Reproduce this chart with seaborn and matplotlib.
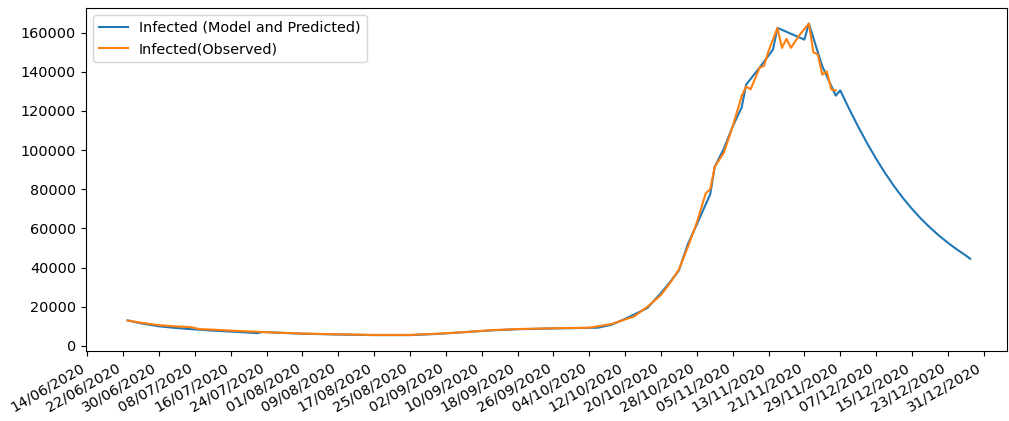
import matplotlib
matplotlib.use("Agg")
import matplotlib.pyplot as plt
import matplotlib.dates as mdates
import pandas as pd
import seaborn as sns

# ---- data ----
obs_dates = ["2020-06-23", "2020-06-26", "2020-06-30", "2020-07-04", "2020-07-07", "2020-07-09",
             "2020-07-12", "2020-07-16", "2020-07-24", "2020-08-01", "2020-08-09", "2020-08-17",
             "2020-08-25", "2020-08-31", "2020-09-06", "2020-09-12", "2020-09-18", "2020-09-26",
             "2020-10-02", "2020-10-04", "2020-10-06", "2020-10-09", "2020-10-12", "2020-10-14",
             "2020-10-17", "2020-10-20", "2020-10-22", "2020-10-24", "2020-10-26", "2020-10-28",
             "2020-10-30", "2020-10-31", "2020-11-01", "2020-11-03", "2020-11-05", "2020-11-07",
             "2020-11-08", "2020-11-09", "2020-11-11", "2020-11-12", "2020-11-13", "2020-11-15",
             "2020-11-16", "2020-11-17", "2020-11-18", "2020-11-20", "2020-11-22", "2020-11-23",
             "2020-11-24", "2020-11-25", "2020-11-26", "2020-11-27", "2020-11-28"]
obs_values = [13000, 11800, 10600, 9900, 9600, 8600,
              8300, 7800, 7000, 6300, 5900, 5600,
              5600, 6200, 7000, 8000, 8600, 9000,
              9200, 9300, 10000, 11200, 13500, 15000,
              20000, 26000, 32000, 39000, 50500, 63000,
              78000, 80000, 91500, 98500, 112000, 127500,
              132500, 131000, 142000, 143000, 150500, 162400,
              152200, 156800, 152200, 159000, 164600, 150000,
              148800, 138500, 140200, 131000, 130500]

model_dates = ["2020-06-23", "2020-06-26", "2020-06-30", "2020-07-04", "2020-07-08", "2020-07-12",
               "2020-07-16", "2020-07-20", "2020-07-22", "2020-07-23", "2020-08-01", "2020-08-09",
               "2020-08-17", "2020-08-25", "2020-08-31", "2020-09-06", "2020-09-12", "2020-09-18",
               "2020-09-26", "2020-10-04", "2020-10-06", "2020-10-09", "2020-10-12", "2020-10-14",
               "2020-10-17", "2020-10-20", "2020-10-22", "2020-10-24", "2020-10-26", "2020-10-28",
               "2020-10-31", "2020-11-01", "2020-11-03", "2020-11-05", "2020-11-07", "2020-11-08",
               "2020-11-11", "2020-11-14", "2020-11-15", "2020-11-21", "2020-11-22", "2020-11-25",
               "2020-11-28", "2020-11-29", "2020-12-01", "2020-12-03", "2020-12-05", "2020-12-07",
               "2020-12-09", "2020-12-11", "2020-12-13", "2020-12-15", "2020-12-17", "2020-12-19",
               "2020-12-21", "2020-12-23", "2020-12-25", "2020-12-27", "2020-12-28"]
model_values = [13000, 11500, 10000, 9100, 8400, 7800,
                7300, 6800, 6500, 7100, 6200, 5800,
                5500, 5500, 6100, 7000, 7900, 8500,
                8900, 9200, 9300, 10800, 13800, 16000,
                19400, 27000, 32500, 38500, 52000, 62000,
                77500, 91500, 100500, 112000, 121700, 133400,
                142100, 151300, 162400, 156400, 164600, 142800,
                127800, 130500, 121000, 112000, 103500, 95600,
                88300, 81600, 75500, 70000, 65000, 60500,
                56400, 52700, 49300, 46200, 44500]

tick_start = "2020-06-14"
tick_end = "2020-12-31"
tick_step = "8D"
x_range = ["2020-06-13 15:20", "2021-01-05 05:00"]

# ---- build frames ----
obs = pd.DataFrame({"date": pd.to_datetime(obs_dates), "value": obs_values})
model = pd.DataFrame({"date": pd.to_datetime(model_dates), "value": model_values})

plt.rcParams["font.size"] = 10.4

fig = plt.figure(figsize=(10.09, 4.21), dpi=100)
ax = fig.add_axes([0.0849, 0.167, 0.9131, 0.814])

sns.lineplot(data=model, x="date", y="value", ax=ax, color="#1f77b4",
             label="Infected (Model and Predicted)", linewidth=1.5)
sns.lineplot(data=obs, x="date", y="value", ax=ax, color="#ff7f0e",
             label="Infected(Observed)", linewidth=1.5)

ax.set_xlabel("")
ax.set_ylabel("")
ticks = pd.date_range(tick_start, tick_end, freq=tick_step)
ax.set_xticks(ticks)
ax.xaxis.set_major_formatter(mdates.DateFormatter("%d/%m/%Y"))
ax.set_xlim(pd.Timestamp(x_range[0]), pd.Timestamp(x_range[1]))
for lab in ax.get_xticklabels():
    lab.set_rotation(30)
    lab.set_horizontalalignment("right")
ax.legend(loc="upper left")

fig.savefig("out.png", dpi=100)
